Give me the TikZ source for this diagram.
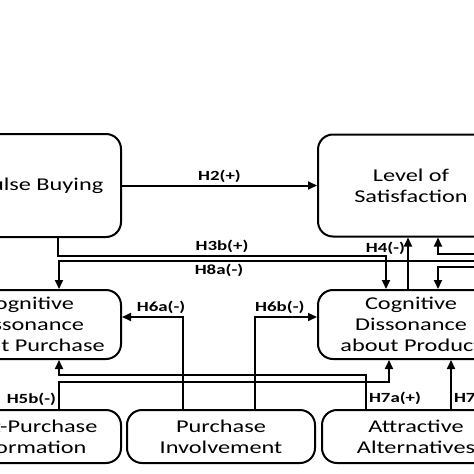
\documentclass[tikz,border=0pt]{standalone}
\usepackage{fontspec}
\setmainfont{Carlito}[FakeStretch=1.35]
\usetikzlibrary{arrows.meta,positioning,calc}

\begin{document}
\begin{tikzpicture}
    [x=1pt,y=-1pt,>={Triangle[length=9pt,width=8pt]},line width=2pt,
     box/.style={rounded corners=15pt,rectangle,draw=black,line width=2pt,minimum width=186pt,align=center,inner sep=2pt,font=\fontsize{18}{21}\selectfont},
     hyp/.style={font=\bfseries\fontsize{14}{16}\selectfont,inner sep=2pt}]
    \useasboundingbox (0,0) rectangle (474,474);
    \clip (0,0) rectangle (474,474);

    % boxes
    \node[box,minimum height=103pt] (Imp) at (28,185.5) {Impulse Buying};
    \node[box,minimum height=102pt,right=195pt of Imp] (Sat) {Level of\\Satisfaction};
    \node[box,minimum height=69pt,below=51pt of Imp] (CDpur) {Cognitive\\Dissonance\\about Purchase};
    \node[box,minimum height=69pt,right=195pt of CDpur] (CDprod) {Cognitive\\Dissonance\\about Product};
    \node[box,minimum height=53pt,below=49pt of CDpur] (PPI) {Post-Purchase\\Information};
    \node[box,minimum height=53pt,minimum width=188pt,right=4pt of PPI] (Inv) {Purchase\\Involvement};
    \node[box,minimum height=53pt,minimum width=188pt,right=5pt of Inv] (Alt) {Attractive\\Alternatives};

    % free ends coming in from the right
    \coordinate (fromR1) at (480,254);
    \coordinate (fromR2) at (480,261);
    \coordinate (fromR3) at (480,267);

    \draw[->] (Imp) -- (Sat) node[hyp,midway,above] {H2(+)};
    \draw[->] ([xshift=30pt]Imp.south) -- ++(0,18) -| ([xshift=-25pt]CDprod.north) node[hyp,pos=0.25,above] {H3b(+)};
    \draw[->] (fromR2) -| ([xshift=31pt]CDpur.north) node[hyp,pos=0.31,below] {H8a(-)};
    \draw[->] ([xshift=-3pt]CDprod.north) -- ([xshift=-3pt]Sat.south) node[hyp,pos=0.78,left] {H4(-)};
    \draw[->] (fromR1) -| ([xshift=27pt]Sat.south);
    \draw[->] (fromR3) -| ([xshift=27pt]CDprod.north);
    \draw[->] ([xshift=-38pt]Inv.north) |- ([yshift=7.5pt]CDpur.east) node[hyp,pos=0.68,above] {H6a(-)};
    \draw[->] ([xshift=34pt]Inv.north) |- ([yshift=7.5pt]CDprod.west) node[hyp,pos=0.7,above] {H6b(-)};
    \draw[->] ([xshift=31pt]PPI.north) -- ++(0,-27) node[hyp,pos=0.35,left] {H5b(-)} -| ([xshift=-22pt]CDprod.south);
    \draw[->] ([xshift=-50pt]Alt.north) -- ++(0,-34) node[hyp,pos=0.3,right] {H7a(+)} -| ([xshift=31pt]CDpur.south);
    \draw[->] ([xshift=35pt]Alt.north) -- ([xshift=35pt]Alt.north |- CDprod.south) node[hyp,pos=0.22,right] {H7b(+)};
\end{tikzpicture}
\end{document}
